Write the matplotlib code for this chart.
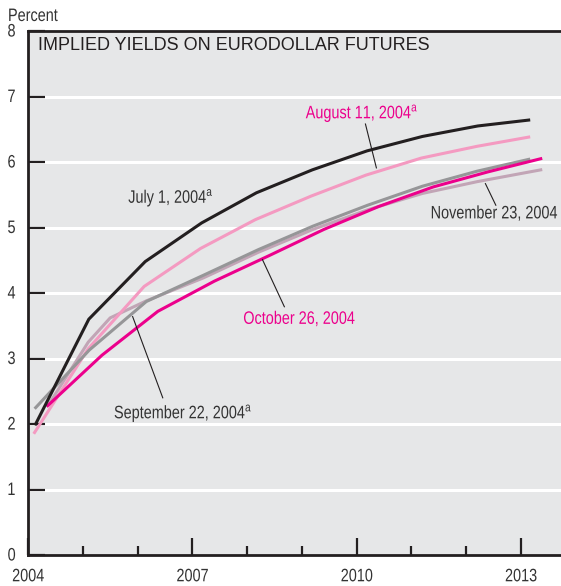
import matplotlib
matplotlib.use("Agg")
import matplotlib.pyplot as plt
from matplotlib import patheffects
from matplotlib.transforms import Affine2D

plt.rcParams['font.family'] = ['Liberation Sans', 'DejaVu Sans']

# series (decimal year, percent)
jul_x = [2004.14, 2005.11, 2006.14, 2007.17, 2008.17, 2009.19, 2010.19, 2011.2, 2012.21, 2013.14]
jul_y = [2.0, 3.6, 4.48, 5.07, 5.53, 5.88, 6.17, 6.39, 6.55, 6.64]

aug_x = [2004.12, 2005.1, 2006.12, 2007.15, 2008.15, 2009.17, 2010.17, 2011.18, 2012.2, 2013.14]
aug_y = [1.87, 3.15, 4.1, 4.68, 5.12, 5.48, 5.8, 6.06, 6.24, 6.38]

sep_x = [2004.14, 2005.12, 2006.16, 2007.2, 2008.2, 2009.2, 2010.2, 2011.2, 2012.2, 2013.14]
sep_y = [2.25, 3.13, 3.87, 4.27, 4.66, 5.02, 5.34, 5.63, 5.86, 6.04]

oct_x = [2004.36, 2005.35, 2006.37, 2007.4, 2008.4, 2009.4, 2010.4, 2011.4, 2012.4, 2013.36]
oct_y = [2.28, 3.05, 3.72, 4.18, 4.57, 4.97, 5.32, 5.62, 5.85, 6.05]

nov_x = [2004.38, 2005.1, 2005.5, 2006.16, 2007.2, 2008.2, 2009.2, 2010.2, 2011.2, 2012.2, 2013.36]
nov_y = [2.3, 3.25, 3.62, 3.88, 4.23, 4.62, 4.97, 5.27, 5.52, 5.7, 5.88]

yticks = [0, 1, 2, 3, 4, 5, 6, 7, 8]
major_years = [2004, 2007, 2010, 2013]
minor_years = [2005, 2006, 2008, 2009, 2011, 2012]

BG = '#e6e7e8'
INK = '#231f20'
TXT = '#333333'
MAGENTA = '#ec008c'


class Tall(patheffects.AbstractPathEffect):
    """stretch text vertically about its baseline -> looks like a condensed face"""
    def __init__(self, sy=1.25):
        super().__init__()
        self.sy = sy

    def draw_path(self, renderer, gc, tpath, affine, rgbFace=None):
        renderer.draw_path(gc, tpath, Affine2D().scale(1, self.sy) + affine, rgbFace)


FS = 10.4          # small face, stretched up to the height of a 13 pt one
tall = [Tall(1.25)]

fig = plt.figure(figsize=(5.61, 5.86), dpi=100)
ax = fig.add_axes([28 / 561, 31 / 586, 1 - 28 / 561, (555 - 31) / 586])
ax.set_facecolor(BG)

# white gridlines
for v in yticks[1:-1]:
    ax.axhline(v, color='white', lw=2.2, zorder=1)

lw = 2.2
ax.plot(nov_x, nov_y, color='#c2a5b6', lw=lw, zorder=3)
ax.plot(sep_x, sep_y, color='#969698', lw=lw, zorder=4)
ax.plot(oct_x, oct_y, color=MAGENTA, lw=lw, zorder=5)
ax.plot(aug_x, aug_y, color='#f49ac1', lw=lw, zorder=3)
ax.plot(jul_x, jul_y, color=INK, lw=lw, zorder=6)

ax.set_xlim(2004, 2013.73)
ax.set_ylim(0, 8)

ax.set_yticks(yticks)
ax.set_yticklabels([str(v) for v in yticks])
ax.set_xticks(major_years)
ax.set_xticklabels([str(y) for y in major_years])
ax.set_xticks(minor_years, minor=True)

ax.tick_params(axis='y', direction='in', length=12, width=1.6, color=INK,
               labelsize=FS, labelcolor=TXT, pad=9)
ax.tick_params(axis='x', which='major', direction='in', length=12, width=1.6,
               color=INK, labelsize=FS, labelcolor=TXT, pad=11)
ax.tick_params(axis='x', which='minor', direction='in', length=6.5, width=1.6, color=INK)
for lab in ax.get_xticklabels() + ax.get_yticklabels():
    lab.set_path_effects(tall)

for s in ['left', 'bottom', 'top']:
    ax.spines[s].set_color(INK)
    ax.spines[s].set_linewidth(2)
ax.spines['right'].set_visible(False)

# labels and pointers
ax.text(2005.83, 5.44, 'July 1, 2004$^{\\mathregular{a}}$', fontsize=FS, color=TXT,
        ha='left', va='center', zorder=7, path_effects=tall)
ax.text(2009.07, 6.73, 'August 11, 2004$^{\\mathregular{a}}$', fontsize=FS, color=MAGENTA,
        ha='left', va='center', zorder=7, path_effects=tall)
ax.plot([2010.16, 2010.36], [6.58, 5.91], color=INK, lw=0.8, zorder=7)
ax.text(2011.35, 5.2, 'November 23, 2004', fontsize=FS, color=TXT,
        ha='left', va='center', zorder=7, path_effects=tall)
ax.plot([2012.35, 2012.54], [5.67, 5.34], color=INK, lw=0.8, zorder=7)
ax.text(2007.93, 3.59, 'October 26, 2004', fontsize=FS, color=MAGENTA,
        ha='left', va='center', zorder=7, path_effects=tall)
ax.plot([2008.28, 2008.68], [4.51, 3.79], color=INK, lw=0.8, zorder=7)
ax.text(2005.57, 2.15, 'September 22, 2004$^{\\mathregular{a}}$', fontsize=FS, color=TXT,
        ha='left', va='center', zorder=7, path_effects=tall)
ax.plot([2005.91, 2006.46], [3.64, 2.40], color=INK, lw=0.8, zorder=7)

fig.text(38 / 561, 1 - 46 / 586, 'IMPLIED YIELDS ON EURODOLLAR FUTURES',
         fontsize=13, color=INK, ha='left', va='center')
fig.text(8 / 561, 1 - 17 / 586, 'Percent', fontsize=FS, color=TXT,
         ha='left', va='center', path_effects=tall)

fig.savefig('out.png', dpi=100)
